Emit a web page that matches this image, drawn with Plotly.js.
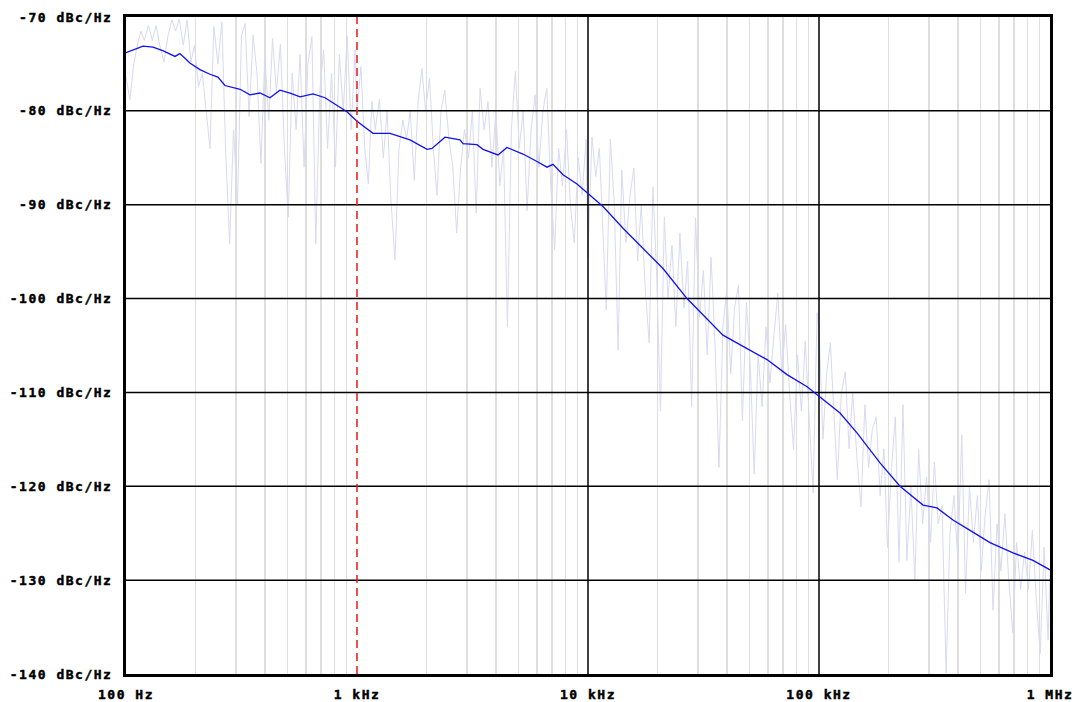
<!DOCTYPE html>
<html>
<head>
<meta charset="utf-8">
<script src="https://cdn.plot.ly/plotly-3.0.1.min.js"></script>
<style>
html,body{margin:0;padding:0;background:#fff;}
#chart{width:1077px;height:702px;}
.xtick text,.ytick text{letter-spacing:1.5px;font-weight:bold !important;stroke:#000;stroke-width:0.45px;}
</style>
</head>
<body>
<div id="chart"></div>
<script>
// Smoothed phase noise (blue)
const smoothFreq = [100,118.5,131,145,163,171,180,189,209,231,250,268,312,344,380,420,464,513,567,645,727,844,905,1000,1173,1390,1696,2010,2112,2404,2792,2876,3307,3512,4077,4460,5232,6015,6645,7056,7794,8963,10000,11614,14177,17300,21120,26830,32740,38400,46900,59550,72700,88800,100000,123300,146000,183700,224200,282000,324200,380200,450600,550000,691600,844000,1000000];
const smoothDb = [-73.8,-73.1,-73.2,-73.6,-74.2,-73.9,-74.4,-74.9,-75.6,-76.1,-76.4,-77.3,-77.7,-78.3,-78.1,-78.6,-77.8,-78.1,-78.5,-78.2,-78.6,-79.6,-80.1,-81.1,-82.4,-82.4,-83.1,-84.1,-84.0,-82.8,-83.1,-83.5,-83.6,-84.1,-84.7,-83.9,-84.6,-85.4,-86.0,-85.7,-86.8,-87.8,-88.8,-90.2,-92.5,-94.6,-96.8,-100.0,-102.2,-103.9,-105.1,-106.5,-108.1,-109.4,-110.4,-112.2,-114.3,-117.5,-120.0,-122.0,-122.3,-123.6,-124.7,-126.0,-127.1,-127.9,-128.9];

// Raw measured phase noise (faint trace)
const rawFreq = [
100,104,108,112,116,120,125,130,135,140,146,152,158,164,170,177,184,191,198,206,214,222,231,240,250,260,270,281,292,304,316,328,341,355,369,384,399,415,431,448,466,485,504,524,545,567,590,613,638,663,690,717,746,776,807,839,872,907,943,981,
1000,1040,1080,1120,1160,1200,1250,1300,1350,1400,1460,1520,1580,1640,1700,1770,1840,1910,1980,2060,2140,2220,2310,2400,2500,2600,2700,2810,2920,3040,3160,3280,3410,3550,3690,3840,3990,4150,4310,4480,4660,4850,5040,5240,5450,5670,5900,6130,6380,6630,6900,7170,7460,7760,8070,8390,8720,9070,9430,9810,
10000,10400,10800,11200,11600,12000,12500,13000,13500,14000,14600,15200,15800,16400,17000,17700,18400,19100,19800,20600,21400,22200,23100,24000,25000,26000,27000,28100,29200,30400,31600,32800,34100,35500,36900,38400,39900,41500,43100,44800,46600,48500,50400,52400,54500,56700,59000,61300,63800,66300,69000,71700,74600,77600,80700,83900,87200,90700,94300,98100,
100000,104000,108000,112000,116000,120000,125000,130000,135000,140000,146000,152000,158000,164000,170000,177000,184000,191000,198000,206000,214000,222000,231000,240000,250000,260000,270000,281000,292000,304000,316000,328000,341000,355000,369000,384000,399000,415000,431000,448000,466000,485000,504000,524000,545000,567000,590000,613000,638000,663000,690000,717000,746000,776000,807000,839000,872000,907000,943000,981000,1000000];
const rawDb = [
-76.4,-78.8,-75,-73,-71.5,-72.5,-70.9,-72.5,-70.9,-73,-74.8,-72,-70.3,-71.5,-70.2,-73,-70.3,-74.8,-73,-77.4,-76,-80,-84,-71,-75,-70.5,-84.2,-94.2,-82,-90,-72,-70.7,-80.6,-71.9,-76,-85.6,-74,-81,-72.3,-78,-72.9,-84,-91.3,-76,-82,-74,-86,-75,-72.1,-94.2,-78,-73.5,-84,-76,-86,-74,-80,-72,-82,-73.5,
-80,-75.3,-84,-87.8,-79,-82,-78.8,-85,-80,-89.2,-95.9,-84,-81,-83,-80,-87.4,-79,-75.5,-80,-76.5,-84,-89,-80,-77.8,-83,-86,-93,-86,-82,-85,-80,-90.9,-77.6,-82,-79,-86,-80,-88,-84,-103,-82,-75.8,-84,-80,-90.6,-82,-78.3,-86,-80,-77.6,-88,-94.8,-84,-88,-82,-90,-94.1,-85,-89,-83,
-95.6,-82.8,-87,-84,-92,-101.2,-83,-90,-105.5,-86.3,-94,-89,-86.1,-96,-90,-99,-104.7,-88.1,-97,-112,-91.3,-100,-94.3,-103,-93,-101,-96,-111.5,-91.4,-102,-97,-106,-95.6,-105,-118,-103,-99,-108,-101,-98.6,-113,-100.4,-107,-118.7,-106,-111.5,-103,-109,-104,-99.4,-108,-102.8,-110,-116.1,-106,-112,-104.6,-112,-120.7,-101.5,
-103,-115,-108,-104.7,-112,-119.3,-110,-107.8,-116,-110,-117,-122.2,-111.3,-118,-114,-112.6,-121,-116,-126.5,-118,-112.6,-128.1,-111.3,-127.9,-120,-130,-116.1,-124,-119,-126,-117.4,-124,-122,-139.9,-125,-121,-128,-114.5,-131.4,-120,-126,-121,-129,-123,-119.3,-133.2,-124,-129,-122.9,-130,-135.6,-126,-131,-127,-131,-124.7,-132,-137.8,-126.5,-136.4,-129];

const xTickVals = [100,1000,10000,100000,1000000];
const xTickText = ['100 Hz','1 kHz','10 kHz','100 kHz','1 MHz'];
const yTickVals = [-140,-130,-120,-110,-100,-90,-80,-70];
const yTickText = ['-140 dBc/Hz','-130 dBc/Hz','-120 dBc/Hz','-110 dBc/Hz','-100 dBc/Hz','-90 dBc/Hz','-80 dBc/Hz','-70 dBc/Hz'];
const minorMultipliers = [2,3,4,5,6,7,8,9];
const majorXGrid = [10000,100000];
const markerFreq = 1000;

const xMin = xTickVals[0], xMax = xTickVals[xTickVals.length-1];
const yMin = yTickVals[0], yMax = yTickVals[yTickVals.length-1];

const minorTickVals = [];
xTickVals.slice(0, -1).forEach(d => minorMultipliers.forEach(m => minorTickVals.push(d * m)));

// Major grid lines as data traces (drawn above the faint raw trace)
const gx = [], gy = [];
yTickVals.slice(1, -1).forEach(v => { gx.push(xMin, xMax, null); gy.push(v, v, null); });
majorXGrid.forEach(f => { gx.push(f, f, null); gy.push(yMin, yMax, null); });

const font = {family: '"DejaVu Sans Mono", "Liberation Mono", monospace', size: 13, color: '#000', weight: 'bold'};

const data = [
  {x: rawFreq, y: rawDb, type: 'scatter', mode: 'lines', line: {color: '#d9d9f3', width: 1}, hoverinfo: 'skip', showlegend: false},
  {x: gx, y: gy, type: 'scatter', mode: 'lines', line: {color: '#000', width: 1.5}, hoverinfo: 'skip', showlegend: false, connectgaps: false},
  {x: smoothFreq, y: smoothDb, type: 'scatter', mode: 'lines', line: {color: '#1010f0', width: 1.3}, showlegend: false},
  {x: [markerFreq, markerFreq], y: [yMin, yMax], type: 'scatter', mode: 'lines', line: {color: '#e81818', width: 1.5, dash: '8px,5px'}, hoverinfo: 'skip', showlegend: false}
];

const layout = {
  width: 1077, height: 702,
  margin: {l: 126, r: 27, t: 17, b: 28},
  paper_bgcolor: '#fff', plot_bgcolor: '#fff',
  font: font,
  showlegend: false,
  xaxis: {
    type: 'log', range: [Math.log10(xMin), Math.log10(xMax)],
    tickvals: xTickVals, ticktext: xTickText, ticks: '',
    showgrid: false, zeroline: false,
    showline: true, mirror: true, linecolor: '#000', linewidth: 3,
    ticklabelstandoff: 6,
    tickfont: font,
    minor: {tickvals: minorTickVals, showgrid: true, gridcolor: '#dedede', gridwidth: 1.5, ticks: ''}
  },
  yaxis: {
    range: [yMin, yMax],
    tickvals: yTickVals, ticktext: yTickText, ticks: '',
    showgrid: false, zeroline: false,
    showline: true, mirror: true, linecolor: '#000', linewidth: 3,
    ticklabelstandoff: 8,
    tickfont: font
  }
};

Plotly.newPlot('chart', data, layout, {displayModeBar: false, staticPlot: true});
</script>
</body>
</html>
